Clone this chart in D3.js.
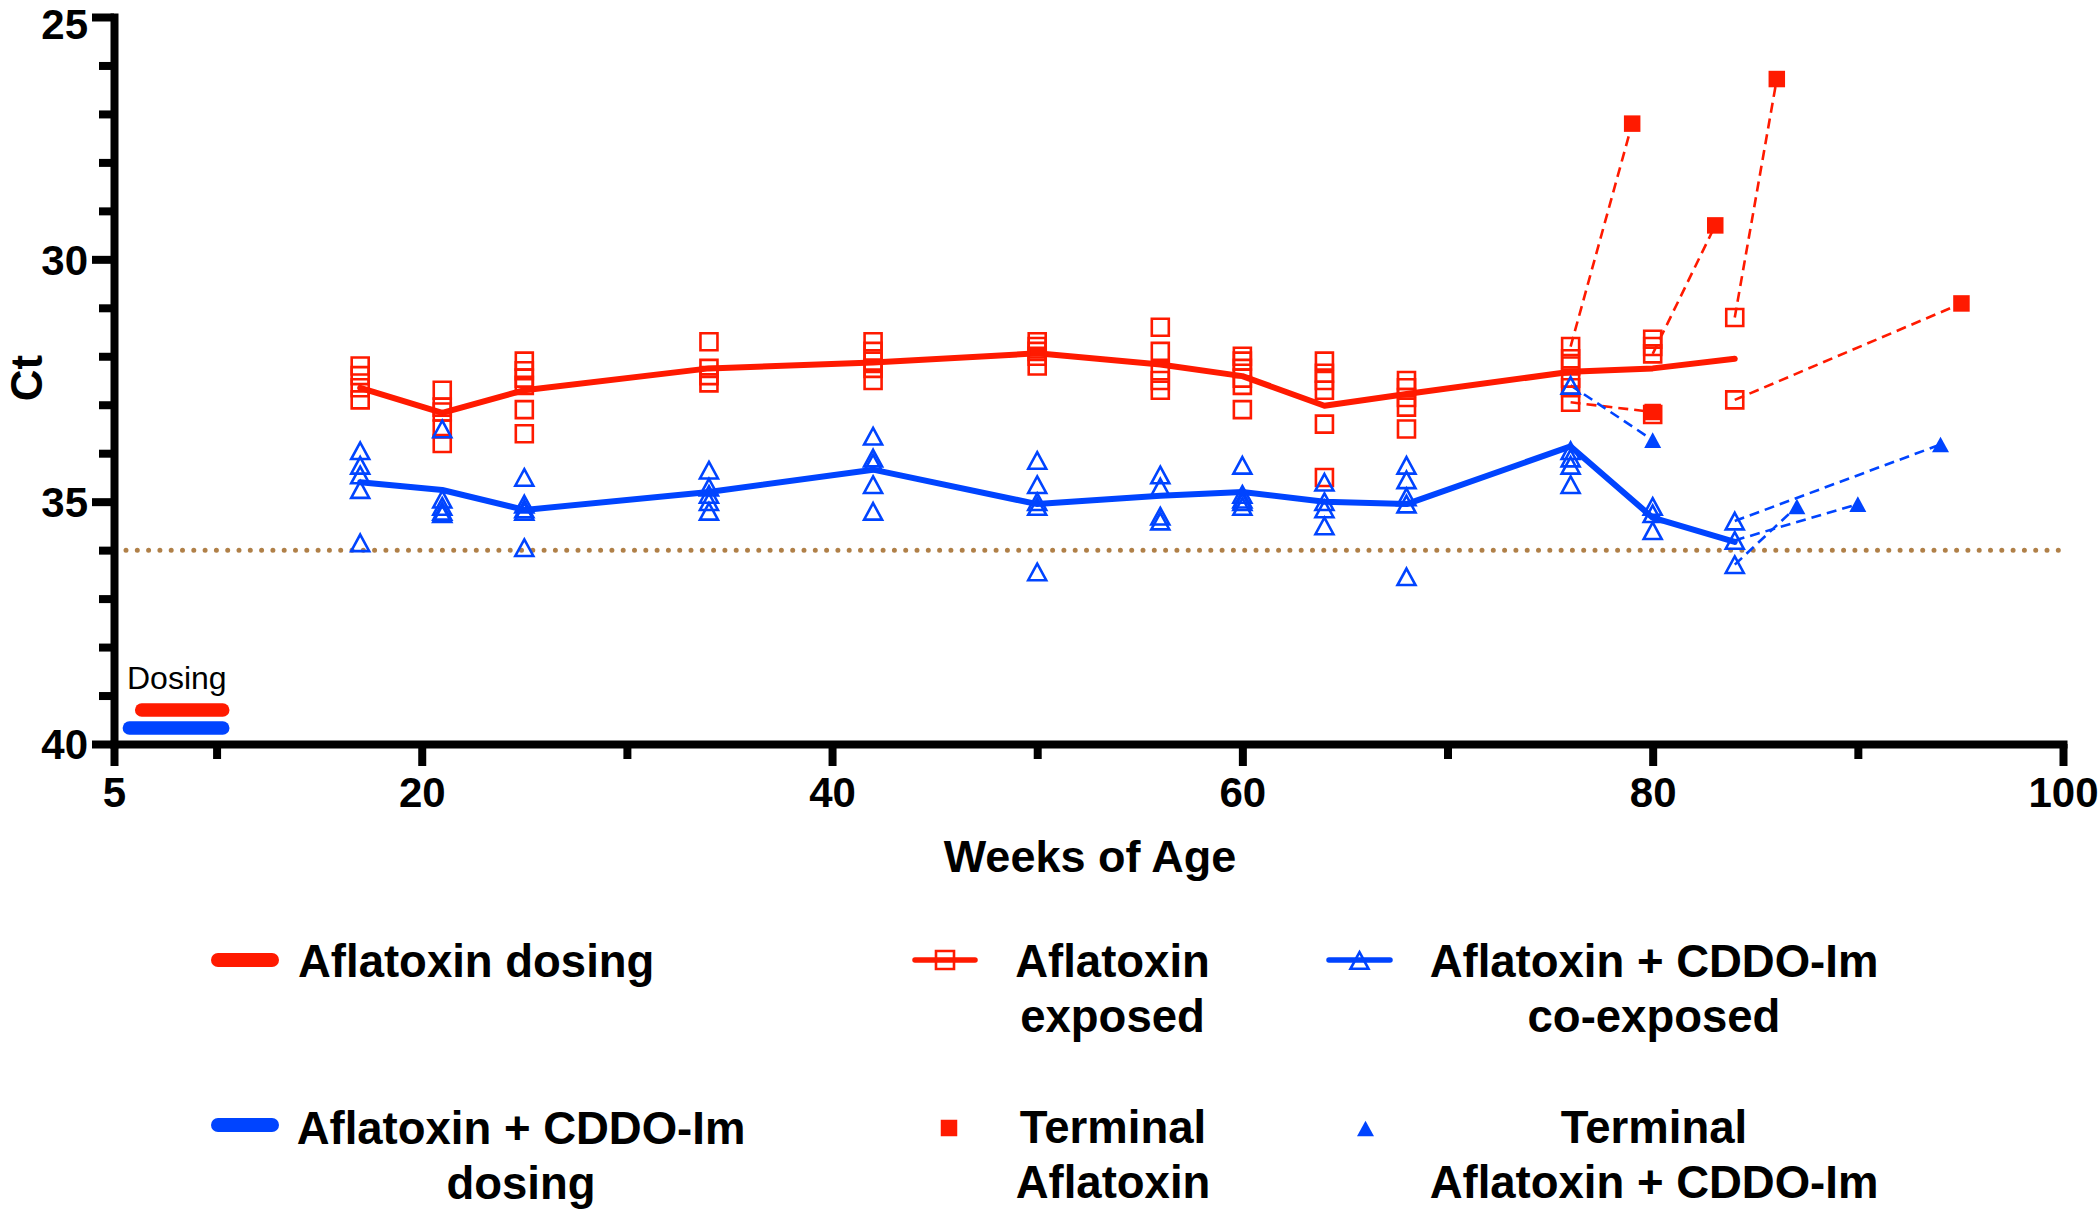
<!DOCTYPE html>
<html><head><meta charset="utf-8">
<script src="https://cdn.jsdelivr.net/npm/d3@7"></script>
<style>
body{margin:0;background:#fff}
svg{display:block}
text{font-family:"Liberation Sans",Arial,Helvetica,sans-serif}
</style>
</head><body>
<svg id="chart" width="2100" height="1209"></svg>
<script>
// ---------------- DATA ----------------
const weeks = [17, 21, 25, 34, 42, 50, 56, 60, 64, 68, 76, 80, 84];

const aflaExposed = [
  [32.2, 32.4, 32.65, 32.9],
  [32.7, 33.05, 33.15, 33.5, 33.8],
  [32.1, 32.3, 32.45, 32.6, 33.1, 33.6],
  [31.7, 32.25, 32.4, 32.55],
  [31.7, 31.9, 32.1, 32.25, 32.5],
  [31.7, 31.8, 31.9, 32.0, 32.2],
  [31.4, 31.9, 32.3, 32.5, 32.7],
  [32.0, 32.1, 32.25, 32.45, 32.6, 33.1],
  [32.1, 32.35, 32.5, 32.7, 33.4, 34.5],
  [32.5, 32.65, 32.85, 33.05, 33.5],
  [31.8, 32.05, 32.2, 32.45, 32.65, 32.95],
  [31.65, 31.8, 31.95, 33.2],
  [31.2, 32.9]
];
const aflaMean = [32.65, 33.17, 32.7, 32.25, 32.13, 31.94, 32.17, 32.41, 33.02, 32.78, 32.32, 32.25, 32.05];

const cddoExposed = [
  [33.95, 34.25, 34.45, 34.75, 35.85],
  [33.5, 34.95, 35.1, 35.2, 35.25],
  [34.5, 35.05, 35.15, 35.2, 35.95],
  [34.35, 34.7, 34.85, 35.0, 35.2],
  [33.65, 34.1, 34.2, 34.65, 35.2],
  [34.15, 34.65, 35.0, 35.1, 36.45],
  [34.45, 34.7, 35.3, 35.4],
  [34.25, 34.85, 34.95, 35.0, 35.1],
  [34.6, 35.0, 35.15, 35.5],
  [34.25, 34.55, 34.9, 35.05, 36.55],
  [32.6, 33.95, 34.1, 34.25, 34.65],
  [35.1, 35.25, 35.6],
  [35.4, 35.8, 36.3]
];
const cddoMean = [34.6, 34.76, 35.17, 34.8, 34.34, 35.05, 34.88, 34.8, 35.0, 35.05, 33.86, 35.33, 35.83];

// terminal samples: last exposed sample -> terminal sample
const termAflaFromWeek = [76, 76, 80, 84, 84];
const termAflaFromCt   = [31.8, 32.95, 31.95, 31.2, 32.9];
const termAflaWeek     = [79.0, 80.0, 83.05, 86.05, 95.05];
const termAflaCt       = [27.2, 33.15, 29.3, 26.28, 30.91];

const termCddoFromWeek = [76, 84, 84, 84];
const termCddoFromCt   = [32.6, 35.4, 35.8, 36.3];
const termCddoWeek     = [80.0, 94.03, 90.0, 87.03];
const termCddoCt       = [33.73, 33.82, 35.05, 35.1];

// dosing periods (weeks) and their plotted Ct level
const aflaDosing = [6.35, 10.3];
const cddoDosing = [5.75, 10.3];
const aflaDosingCt = 39.3;
const cddoDosingCt = 39.67;

const lodCt = 36;

const xMajorTicks = [5, 20, 40, 60, 80, 100];
const xMinorTicks = [10, 30, 50, 70, 90];
const yMajorTicks = [25, 30, 35, 40];
const yMinorTicks = [26, 27, 28, 29, 31, 32, 33, 34, 36, 37, 38, 39];

const legendLabels = [
  ["Aflatoxin dosing"],
  ["Aflatoxin", "exposed"],
  ["Aflatoxin + CDDO-Im", "co-exposed"],
  ["Aflatoxin + CDDO-Im", "dosing"],
  ["Terminal", "Aflatoxin"],
  ["Terminal", "Aflatoxin + CDDO-Im"]
];

// ---------------- DRAW ----------------
const RED = "#ff1a00", BLUE = "#0044ff", LOD = "#b08048";
const svg = d3.select("#chart");
const x = d3.scaleLinear().domain([5, 100]).range([114, 2063]);
const y = d3.scaleLinear().domain([25, 40]).range([17, 744]);

// triangle centred on its bounding box
const triBox = {
  draw(ctx, size) {
    const w = Math.sqrt(size), h = w * 0.92;
    ctx.moveTo(0, -h / 2); ctx.lineTo(w / 2, h / 2); ctx.lineTo(-w / 2, h / 2); ctx.closePath();
  }
};
const sqSym = d3.symbol().type(d3.symbolSquare).size(17 * 17)();
const triSym = d3.symbol().type(triBox).size(18 * 18)();
const sqFill = d3.symbol().type(d3.symbolSquare).size(16.5 * 16.5)();
const triFill = d3.symbol().type(triBox).size(17 * 17)();

// LOD dotted line
svg.append("line")
  .attr("x1", x(5) + 12).attr("x2", x(100)).attr("y1", y(lodCt)).attr("y2", y(lodCt))
  .attr("stroke", LOD).attr("stroke-width", 5).attr("stroke-linecap", "round")
  .attr("stroke-dasharray", "0,11.3");

// dosing bars
svg.append("line").attr("x1", x(aflaDosing[0])).attr("x2", x(aflaDosing[1]))
  .attr("y1", y(aflaDosingCt)).attr("y2", y(aflaDosingCt))
  .attr("stroke", RED).attr("stroke-width", 13.5).attr("stroke-linecap", "round");
svg.append("line").attr("x1", x(cddoDosing[0])).attr("x2", x(cddoDosing[1]))
  .attr("y1", y(cddoDosingCt)).attr("y2", y(cddoDosingCt))
  .attr("stroke", BLUE).attr("stroke-width", 13.5).attr("stroke-linecap", "round");
svg.append("text").attr("x", 127).attr("y", 689).attr("font-size", 32).text("Dosing");

// terminal dashed connectors
const gT = svg.append("g").attr("fill", "none").attr("stroke-width", 2.6).attr("stroke-dasharray", "10,6");
gT.selectAll(".tr").data(d3.range(termAflaWeek.length)).join("line")
  .attr("stroke", RED)
  .attr("x1", i => x(termAflaFromWeek[i])).attr("y1", i => y(termAflaFromCt[i]))
  .attr("x2", i => x(termAflaWeek[i])).attr("y2", i => y(termAflaCt[i]));
gT.selectAll(".tb").data(d3.range(termCddoWeek.length)).join("line")
  .attr("stroke", BLUE)
  .attr("x1", i => x(termCddoFromWeek[i])).attr("y1", i => y(termCddoFromCt[i]))
  .attr("x2", i => x(termCddoWeek[i])).attr("y2", i => y(termCddoCt[i]));

// mean lines
const line = d3.line().x(d => x(d[0])).y(d => y(d[1]));
svg.append("path").datum(weeks.map((w, i) => [w, aflaMean[i]]))
  .attr("d", line).attr("fill", "none").attr("stroke", RED).attr("stroke-width", 6)
  .attr("stroke-linejoin", "round").attr("stroke-linecap", "round");
svg.append("path").datum(weeks.map((w, i) => [w, cddoMean[i]]))
  .attr("d", line).attr("fill", "none").attr("stroke", BLUE).attr("stroke-width", 6)
  .attr("stroke-linejoin", "round").attr("stroke-linecap", "round");

// individual points
const aflaPts = weeks.flatMap((w, i) => aflaExposed[i].map(v => [w, v]));
const cddoPts = weeks.flatMap((w, i) => cddoExposed[i].map(v => [w, v]));
svg.append("g").selectAll("path").data(aflaPts).join("path")
  .attr("d", sqSym).attr("transform", d => `translate(${x(d[0])},${y(d[1])})`)
  .attr("fill", "none").attr("stroke", RED).attr("stroke-width", 2.6);
svg.append("g").selectAll("path").data(cddoPts).join("path")
  .attr("d", triSym).attr("transform", d => `translate(${x(d[0])},${y(d[1])})`)
  .attr("fill", "none").attr("stroke", BLUE).attr("stroke-width", 2.6).attr("stroke-linejoin", "miter");

// terminal markers
svg.append("g").selectAll("path").data(d3.range(termAflaWeek.length)).join("path")
  .attr("d", sqFill).attr("transform", i => `translate(${x(termAflaWeek[i])},${y(termAflaCt[i])})`)
  .attr("fill", RED);
svg.append("g").selectAll("path").data(d3.range(termCddoWeek.length)).join("path")
  .attr("d", triFill).attr("transform", i => `translate(${x(termCddoWeek[i])},${y(termCddoCt[i])})`)
  .attr("fill", BLUE);

// axes
function styleAxis(g) {
  g.select(".domain").attr("stroke", "#000").attr("stroke-width", 8).attr("stroke-linecap", "square");
  g.selectAll(".tick line").attr("stroke", "#000").attr("stroke-width", 8);
  g.selectAll(".tick text").attr("font-size", 42).attr("font-weight", "bold")
    .attr("font-family", '"Liberation Sans",Arial,sans-serif').attr("fill", "#000");
}
const gxMinor = svg.append("g").attr("transform", "translate(0,744)")
  .call(d3.axisBottom(x).tickValues(xMinorTicks).tickSize(15).tickFormat(""));
gxMinor.select(".domain").remove();
gxMinor.selectAll(".tick line").attr("stroke", "#000").attr("stroke-width", 8);
const gyMinor = svg.append("g").attr("transform", "translate(114,0)")
  .call(d3.axisLeft(y).tickValues(yMinorTicks).tickSize(15).tickFormat(""));
gyMinor.select(".domain").remove();
gyMinor.selectAll(".tick line").attr("stroke", "#000").attr("stroke-width", 8);

const gx = svg.append("g").attr("transform", "translate(0,744)")
  .call(d3.axisBottom(x).tickValues(xMajorTicks).tickSize(22).tickSizeOuter(0).tickFormat(d3.format("d")));
styleAxis(gx);
gx.selectAll(".tick text").attr("y", 33).attr("dy", "0.71em");

const gy = svg.append("g").attr("transform", "translate(114,0)")
  .call(d3.axisLeft(y).tickValues(yMajorTicks).tickSize(22).tickSizeOuter(0).tickPadding(4).tickFormat(d3.format("d")));
styleAxis(gy);
gy.selectAll(".tick text").attr("dy", d => d === 25 ? "0.5em" : "0.35em");

// axis titles
svg.append("text").attr("transform", "translate(42,378) rotate(-90)")
  .attr("text-anchor", "middle").attr("font-size", 44).attr("font-weight", "bold").text("Ct");
svg.append("text").attr("x", 1090).attr("y", 872)
  .attr("text-anchor", "middle").attr("font-size", 45).attr("font-weight", "bold").text("Weeks of Age");

// legend
const LFS = 45.5;
function legendText(lines, cx, baseline, anchor) {
  const t = svg.append("text").attr("font-size", LFS).attr("font-weight", "bold")
    .attr("text-anchor", anchor || "middle");
  lines.forEach((s, i) => t.append("tspan").attr("x", cx).attr("y", baseline + i * 55).text(s));
}
// col 1
svg.append("line").attr("x1", 218).attr("x2", 272).attr("y1", 960).attr("y2", 960)
  .attr("stroke", RED).attr("stroke-width", 14).attr("stroke-linecap", "round");
legendText(legendLabels[0], 298, 977, "start");
svg.append("line").attr("x1", 218).attr("x2", 272).attr("y1", 1125).attr("y2", 1125)
  .attr("stroke", BLUE).attr("stroke-width", 14).attr("stroke-linecap", "round");
legendText(legendLabels[3], 521, 1144);
// col 2
svg.append("line").attr("x1", 915).attr("x2", 975).attr("y1", 960).attr("y2", 960)
  .attr("stroke", RED).attr("stroke-width", 5.5).attr("stroke-linecap", "round");
svg.append("path").attr("d", d3.symbol().type(d3.symbolSquare).size(18 * 18)())
  .attr("transform", "translate(945,960)").attr("fill", "none").attr("stroke", RED).attr("stroke-width", 2.6);
legendText(legendLabels[1], 1112.5, 977);
svg.append("path").attr("d", sqFill).attr("transform", "translate(949,1128)").attr("fill", RED);
legendText(legendLabels[4], 1113, 1143);
// col 3
svg.append("line").attr("x1", 1329).attr("x2", 1390).attr("y1", 960).attr("y2", 960)
  .attr("stroke", BLUE).attr("stroke-width", 5.5).attr("stroke-linecap", "round");
svg.append("path").attr("d", triSym).attr("transform", "translate(1359.5,960.5)")
  .attr("fill", "none").attr("stroke", BLUE).attr("stroke-width", 2.6);
legendText(legendLabels[2], 1654, 977);
svg.append("path").attr("d", triFill).attr("transform", "translate(1365.5,1128.5)").attr("fill", BLUE);
legendText(legendLabels[5], 1654, 1143);
</script>
</body></html>
